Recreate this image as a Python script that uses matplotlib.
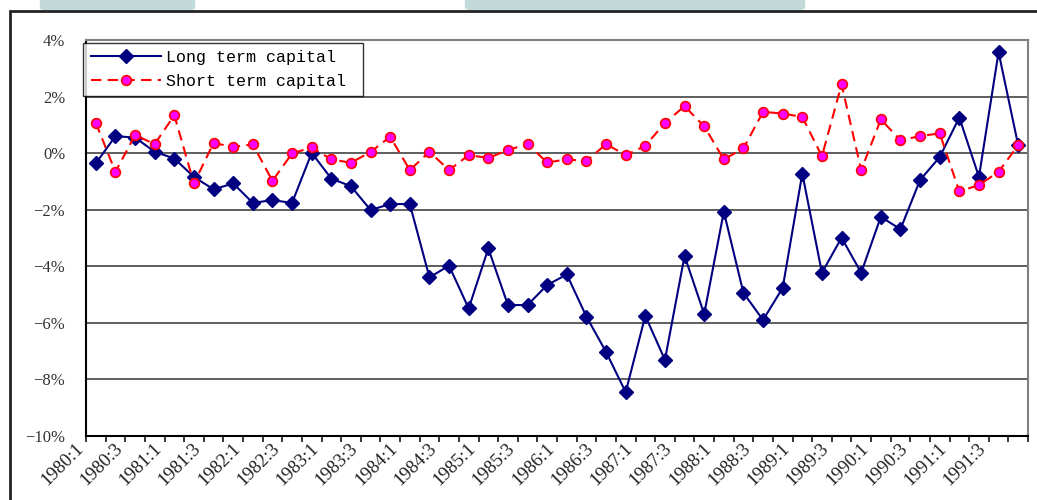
import numpy as np
import matplotlib
matplotlib.use("Agg")
import matplotlib.pyplot as plt
import matplotlib.transforms as mtransforms
from matplotlib.patches import Rectangle, FancyBboxPatch

# quarterly periods 1980:1 .. 1991:4
quarters = [f"{y}:{q}" for y in range(1980, 1992) for q in range(1, 5)]

# long term capital (% )
long_term = [-0.36, 0.60, 0.55, 0.05, -0.19, -0.84, -1.28, -1.07,
             -1.76, -1.66, -1.76, 0.01, -0.90, -1.17, -2.01, -1.80,
             -1.80, -4.39, -3.98, -5.49, -3.37, -5.37, -5.37, -4.66,
             -4.29, -5.78, -7.03, -8.45, -5.75, -7.31, -3.63, -5.69,
             -2.07, -4.94, -5.90, -4.76, -0.72, -4.23, -2.99, -4.23,
             -2.25, -2.69, -0.95, -0.14, 1.26, -0.84, 3.57, 0.28]

# short term capital (%)
short_term = [1.07, -0.66, 0.64, 0.32, 1.34, -1.07, 0.36, 0.22,
              0.31, -0.98, -0.01, 0.20, -0.22, -0.34, 0.04, 0.58,
              -0.60, 0.05, -0.60, -0.07, -0.17, 0.11, 0.32, -0.33,
              -0.22, -0.28, 0.32, -0.07, 0.26, 1.07, 1.66, 0.95,
              -0.22, 0.17, 1.46, 1.40, 1.28, -0.11, 2.43, -0.60,
              1.19, 0.46, 0.60, 0.70, -1.35, -1.13, -0.66, 0.28]

y_ticks = [4, 2, 0, -2, -4, -6, -8, -10]

fig = plt.figure(figsize=(10.37, 5.0), dpi=100)
ax = fig.add_axes([86 / 1037, 1 - 436 / 500, (1028 - 86) / 1037, (436 - 40) / 500])

x = np.arange(len(quarters))

# gridlines
for v in y_ticks[1:-1]:
    ax.axhline(v, color="#333333", lw=1.1, zorder=1)

ax.plot(x, long_term, color="#000080", lw=1.5, marker="D", markersize=7.5,
        markerfacecolor="#000080", markeredgecolor="#000080",
        label="Long term capital ", zorder=3)
ax.plot(x, short_term, color="#ff0000", lw=1.5, linestyle=(0, (5, 3)),
        marker="o", markersize=7, markerfacecolor="#ff00ff",
        markeredgecolor="#ff0000", markeredgewidth=1.2,
        label="Short term capital ", zorder=4)

ax.set_xlim(-0.5, len(quarters) - 0.5)
ax.set_ylim(-10, 4)

ax.spines["top"].set_color("#808080")
ax.spines["right"].set_color("#808080")
ax.spines["top"].set_linewidth(1.5)
ax.spines["right"].set_linewidth(1.5)
ax.spines["left"].set_color("black")
ax.spines["bottom"].set_color("black")
ax.spines["left"].set_linewidth(1.5)
ax.spines["bottom"].set_linewidth(1.5)

# y ticks
ax.set_yticks(y_ticks)
ax.set_yticklabels([f"{v}%".replace("-", "\u2212") for v in y_ticks],
                   family="Liberation Serif", fontsize=12, color="#333333")
ax.tick_params(axis="y", length=0, pad=15)

# x ticks: marks at category borders, labels at every second quarter
ax.set_xticks(np.arange(-0.5, len(quarters), 1))
ax.set_xticklabels([])
ax.tick_params(axis="x", which="major", direction="out", length=4, width=1.1)
ax.set_xticks(x[::2], minor=True)
ax.set_xticklabels(quarters[::2], minor=True, rotation=45, ha="right",
                   va="center", rotation_mode="anchor",
                   family="Liberation Serif", fontsize=13.5, color="#222222")
ax.tick_params(axis="x", which="minor", length=0, pad=0)
offset = mtransforms.ScaledTranslation(-15 / 100, -10 / 100, fig.dpi_scale_trans)
for lab in ax.xaxis.get_minorticklabels():
    lab.set_transform(lab.get_transform() + offset)

leg = ax.legend(loc="upper left", bbox_to_anchor=(-0.003, 0.993),
                borderaxespad=0, frameon=True, fancybox=False,
                prop={"family": "Liberation Mono", "size": 12},
                handlelength=4.2, handletextpad=0.3, labelspacing=0.5,
                borderpad=0.45)
leg.get_frame().set_edgecolor("black")
leg.get_frame().set_linewidth(1.0)
leg.set_zorder(10)

# outer frame of the scanned figure
fig.add_artist(Rectangle((10 / 1037, -0.2), 1.2, 1.2 - 11 / 500 + 0.0,
                         transform=fig.transFigure, fill=False,
                         edgecolor="#222222", lw=2))

# faint watermark blobs above the frame
for x0, w in [(45, 145), (470, 330)]:
    fig.add_artist(FancyBboxPatch((x0 / 1037, 0.985), w / 1037, 0.03,
                                  boxstyle="round,pad=0.005",
                                  transform=fig.transFigure,
                                  facecolor="#b3d1d1", edgecolor="none",
                                  alpha=0.8))

fig.savefig("out.png", dpi=100)
